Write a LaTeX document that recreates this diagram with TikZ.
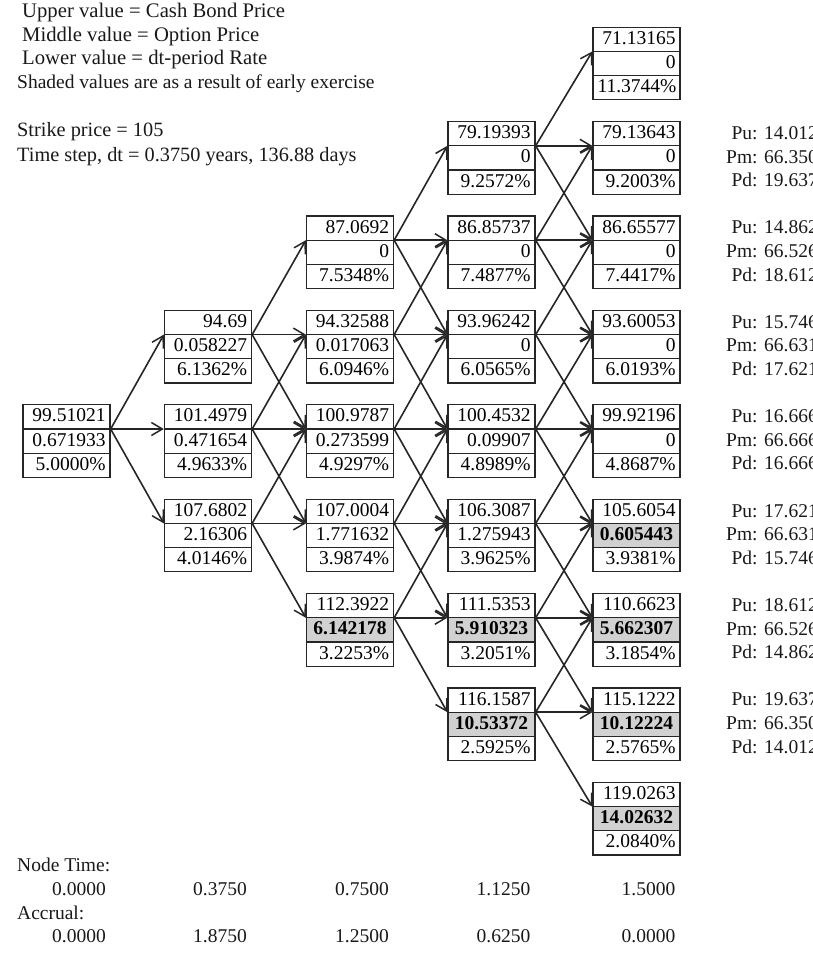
\documentclass[tikz,border=0pt]{standalone}
\usepackage{fontspec}
\setmainfont{Liberation Serif}
\usetikzlibrary{arrows.meta,positioning,shapes.multipart}
\newcommand{\diagfont}{\fontsize{19.5}{23.67}\selectfont}
\newcommand{\rowstrut}{\rule[-3.4pt]{0pt}{16.9pt}}
\newcommand{\cells}[3]{#1\rowstrut\nodepart{two}#2\rowstrut\nodepart{three}#3\rowstrut}
\newcommand{\early}[1]{\makebox[78pt][c]{\bfseries #1}}
\tikzset{
  valuebox/.style={rectangle split,rectangle split parts=3,draw=black!85,line width=1.3pt,
    text width=78pt,align=right,inner xsep=4.5pt,inner ysep=3pt,font=\diagfont},
  exercisebox/.style={valuebox,rectangle split part fill={white,black!18,white}},
  treearrow/.style={-{Straight Barb[length=11pt,width=13pt,line width=1.5pt]},line width=1.6pt,draw=black!85},
  plaintext/.style={font=\diagfont,inner sep=0pt,text=black!90},
  legendtext/.style={plaintext,font=\fontsize{20.7}{24}\selectfont},
  inputtext/.style={plaintext,font=\fontsize{20.3}{24}\selectfont}
}

\begin{document}
\begin{tikzpicture}[x=1pt,y=-1pt]
  \useasboundingbox (0,0) rectangle (812,970);
  \clip (0,0) rectangle (812,970);
  % legend
  \node[legendtext,anchor=base west] (legupper) at (22,17.5) {Upper value = Cash Bond Price};
  \node[legendtext,anchor=base west] (legmiddle) at (22,41) {Middle value = Option Price};
  \node[legendtext,anchor=base west] (leglower) at (22,64.5) {Lower value = dt-period Rate};
  \node[plaintext,anchor=base west] (legshaded) at (17,88.5) {Shaded values are as a result of early exercise};
  \node[inputtext,anchor=base west] (strikelabel) at (17,136.5) {Strike price = 105};
  \node[inputtext,anchor=base west] (steplabel) at (17,161.5) {Time step, dt = 0.3750 years, 136.88 days};
  % tree nodes: n<column><row>
  \node[valuebox] (n04) at (66.5,441.1) {\cells{99.51021}{0.671933}{5.0000\%}};
  \node[valuebox] (n13) at (208,346.7) {\cells{94.69}{0.058227}{6.1362\%}};
  \node[valuebox] (n14) at (208,441.1) {\cells{101.4979}{0.471654}{4.9633\%}};
  \node[valuebox] (n15) at (208,535.5) {\cells{107.6802}{2.16306}{4.0146\%}};
  \node[valuebox] (n22) at (350,252.3) {\cells{87.0692}{0}{7.5348\%}};
  \node[valuebox] (n23) at (350,346.7) {\cells{94.32588}{0.017063}{6.0946\%}};
  \node[valuebox] (n24) at (350,441.1) {\cells{100.9787}{0.273599}{4.9297\%}};
  \node[valuebox] (n25) at (350,535.5) {\cells{107.0004}{1.771632}{3.9874\%}};
  \node[exercisebox] (n26) at (350,629.9) {\cells{112.3922}{\early{6.142178}}{3.2253\%}};
  \node[valuebox] (n31) at (491.5,157.9) {\cells{79.19393}{0}{9.2572\%}};
  \node[valuebox] (n32) at (491.5,252.3) {\cells{86.85737}{0}{7.4877\%}};
  \node[valuebox] (n33) at (491.5,346.7) {\cells{93.96242}{0}{6.0565\%}};
  \node[valuebox] (n34) at (491.5,441.1) {\cells{100.4532}{0.09907}{4.8989\%}};
  \node[valuebox] (n35) at (491.5,535.5) {\cells{106.3087}{1.275943}{3.9625\%}};
  \node[exercisebox] (n36) at (491.5,629.9) {\cells{111.5353}{\early{5.910323}}{3.2051\%}};
  \node[exercisebox] (n37) at (491.5,724.3) {\cells{116.1587}{\early{10.53372}}{2.5925\%}};
  \node[valuebox] (n40) at (636.5,63.5) {\cells{71.13165}{0}{11.3744\%}};
  \node[valuebox] (n41) at (636.5,157.9) {\cells{79.13643}{0}{9.2003\%}};
  \node[valuebox] (n42) at (636.5,252.3) {\cells{86.65577}{0}{7.4417\%}};
  \node[valuebox] (n43) at (636.5,346.7) {\cells{93.60053}{0}{6.0193\%}};
  \node[valuebox] (n44) at (636.5,441.1) {\cells{99.92196}{0}{4.8687\%}};
  \node[exercisebox] (n45) at (636.5,535.5) {\cells{105.6054}{\early{0.605443}}{3.9381\%}};
  \node[exercisebox] (n46) at (636.5,629.9) {\cells{110.6623}{\early{5.662307}}{3.1854\%}};
  \node[exercisebox] (n47) at (636.5,724.3) {\cells{115.1222}{\early{10.12224}}{2.5765\%}};
  \node[exercisebox] (n48) at (636.5,818.7) {\cells{119.0263}{\early{14.02632}}{2.0840\%}};
  % branches: up, level, down
  \foreach \i/\j in {0/1,1/2,2/3,3/4} {
    \pgfmathtruncatemacro{\lo}{4-\i}
    \pgfmathtruncatemacro{\hi}{4+\i}
    \foreach \k in {\lo,...,\hi} {
      \pgfmathtruncatemacro{\up}{\k-1}
      \pgfmathtruncatemacro{\dn}{\k+1}
      \foreach \m in {\up,\k,\dn}
        \draw[treearrow] (n\i\k.text split east) -- (n\j\m.text split west);
    }
  }
  % branch probabilities
  \foreach \k/\pup/\pmid/\pdn in {1/14.0124/66.3503/19.6374,2/14.8620/66.5260/18.6120,
      3/15.7468/66.6315/17.6218,4/16.6667/66.6667/16.6667,5/17.6218/66.6315/15.7468,
      6/18.6120/66.5260/14.8620,7/19.6374/66.3503/14.0124} {
    \pgfmathsetmacro{\cy}{63.5+94.4*\k}
    \node[plaintext,anchor=base west] (pm\k) at (726,{\cy+5.17}) {Pm: \pmid\%};
    \node[plaintext,anchor=base east] (pu\k) at ([yshift=23.67pt]pm\k.base east) {Pu: \pup\%};
    \node[plaintext,anchor=base east] (pd\k) at ([yshift=-23.67pt]pm\k.base east) {Pd: \pdn\%};
  }
  % time axis
  \node[plaintext,anchor=base west] (timelabel) at (17,871) {Node Time:};
  \node[plaintext,anchor=base west] (accruallabel) at (17,919) {Accrual:};
  \foreach \c/\x/\t/\a in {0/106/0.0000/0.0000,1/247/0.3750/1.8750,2/389/0.7500/1.2500,
      3/530.5/1.1250/0.6250,4/675.5/1.5000/0.0000} {
    \node[plaintext,anchor=base east] (time\c) at (\x,895) {\t};
    \node[plaintext,anchor=base east] (accrual\c) at (\x,942) {\a};
  }
\end{tikzpicture}
\end{document}
